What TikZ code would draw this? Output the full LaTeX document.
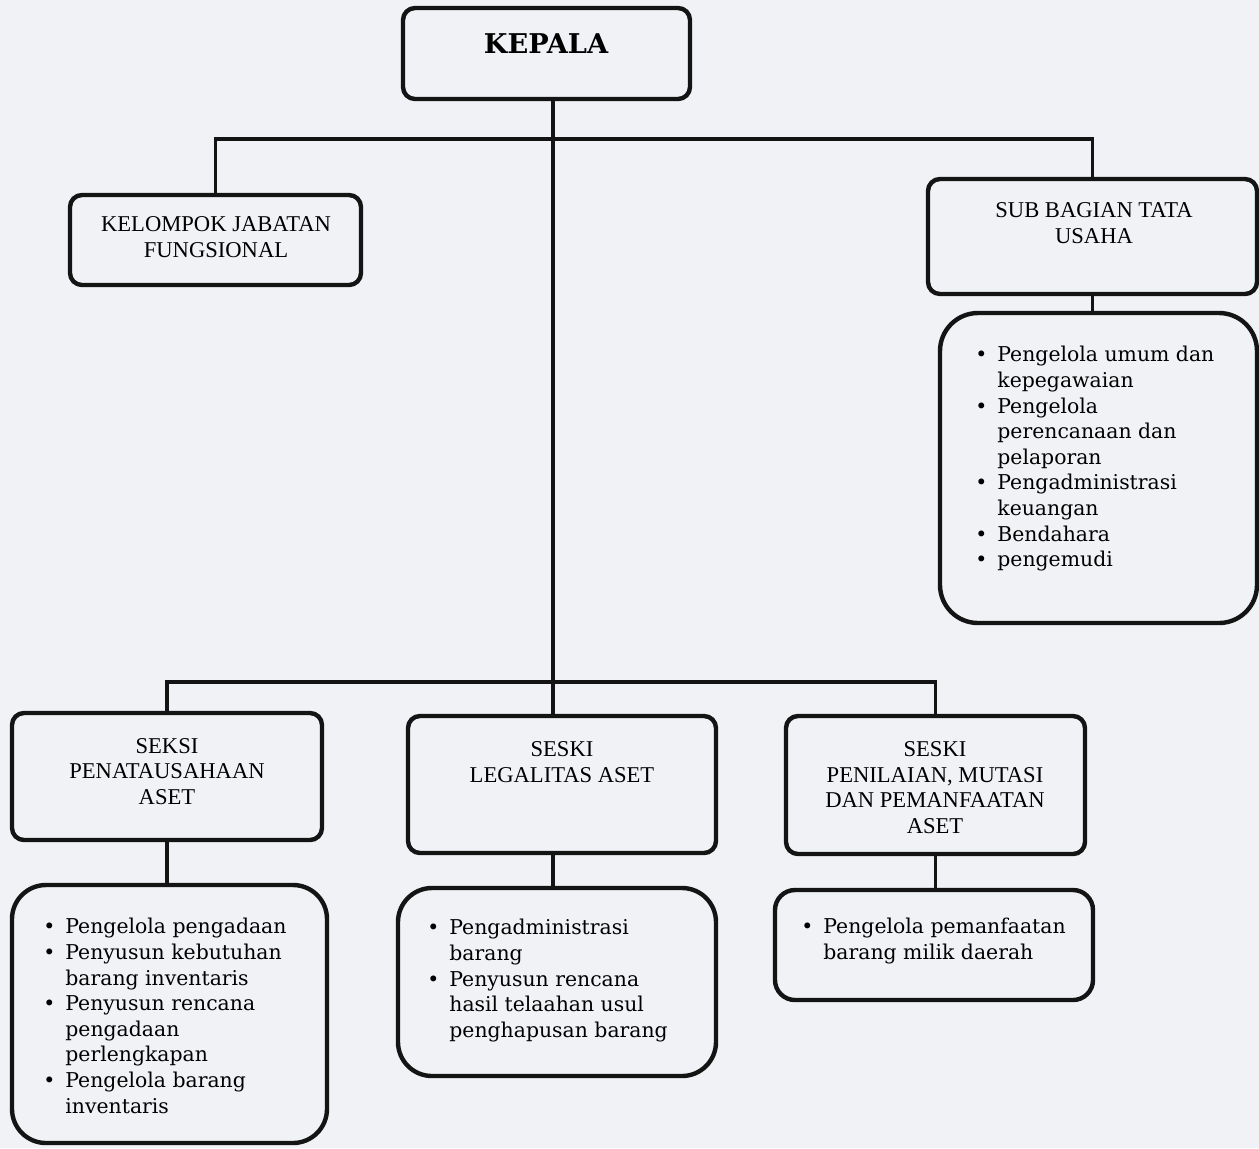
\documentclass[tikz,border=0pt]{standalone}
\usepackage{fontspec}
\setmainfont{Liberation Serif}
\newfontfamily\listfont{DejaVu Serif}
\usetikzlibrary{fit}
\definecolor{bgc}{RGB}{241,242,246}
\definecolor{ink}{RGB}{20,20,20}
\newcommand{\bl}{\llap{\textbullet\hspace{5pt}}}
\tikzset{
  box/.style={draw=ink, line width=2.2pt, rounded corners=6pt, inner sep=0pt},
  listbox/.style={draw=ink, line width=2.2pt, rounded corners=17pt, inner sep=0pt},
  conn/.style={draw=ink, line width=1.8pt},
  head/.style={font=\fontsize{11.3}{12.85}\selectfont, align=center, inner sep=0pt},
  items/.style={font=\listfont\fontsize{10.2}{12.8}\selectfont, align=left, inner sep=0pt, anchor=north west},
}
\begin{document}
\begin{tikzpicture}[x=0.5pt,y=-0.5pt]
\fill[bgc] (0,0) rectangle (1259,1148);
\useasboundingbox (0,0) rectangle (1259,1148);
% boxes
\node[box, fit={(403,8) (690,99)}] (kepala) {};
\node[box, fit={(70,195) (361,285)}] (kjf) {};
\node[box, fit={(928,179) (1257,294)}] (sbtu) {};
\node[listbox, rounded corners=19pt, fit={(940,313) (1257,623)}] (sbl) {};
\node[box, fit={(12,713) (322,840)}] (s1) {};
\node[listbox, fit={(12,885) (327,1143)}] (l1) {};
\node[box, fit={(408,716) (716,853)}] (s2) {};
\node[listbox, fit={(398,888) (716,1076)}] (l2) {};
\node[box, fit={(786,716) (1085,854)}] (s3) {};
\node[box, rounded corners=10pt, fit={(775,890) (1093,1000)}] (l3) {};
% texts
\node[font=\listfont\bfseries\fontsize{13.6}{16}\selectfont, inner sep=0pt] (tkep) at (546,44) {KEPALA};
\node[head] (tkjf) at (216,237) {KELOMPOK JABATAN\\FUNGSIONAL};
\node[head] (tsbtu) at (1094,223) {SUB BAGIAN TATA\\USAHA};
\node[head] (ts1) at (167,771.5) {SEKSI\\PENATAUSAHAAN\\ASET};
\node[head] (ts2) at (562,762) {SESKI\\LEGALITAS ASET};
\node[head] (ts3) at (935,787.5) {SESKI\\PENILAIAN, MUTASI\\DAN PEMANFAATAN\\ASET};
\node[items] (tsbl) at (997,346) {\bl Pengelola umum dan\\kepegawaian\\\bl Pengelola\\perencanaan dan\\pelaporan\\\bl Pengadministrasi\\keuangan\\\bl Bendahara\\\bl pengemudi};
\node[items] (tl1) at (65,918) {\bl Pengelola pengadaan\\\bl Penyusun kebutuhan\\barang inventaris\\\bl Penyusun rencana\\pengadaan\\perlengkapan\\\bl Pengelola barang\\inventaris};
\node[items] (tl2) at (449,919) {\bl Pengadministrasi\\barang\\\bl Penyusun rencana\\hasil telaahan usul\\penghapusan barang};
\node[items] (tl3) at (823,918) {\bl Pengelola pemanfaatan\\barang milik daerah};
% connectors
\coordinate (j1) at (553,139);
\coordinate (j2) at (553,682);
\draw[conn] (kepala.south -| j1) -- (j2) -- (j2 |- s2.north);
\draw[conn] (kjf.north) |- (j1) -| (sbtu.north);
\draw[conn] (sbtu.south) -- (sbtu.south |- sbl.north);
\draw[conn] (s1.north) |- (j2) -| (s3.north);
\draw[conn] (s1.south) -- (s1.south |- l1.north);
\draw[conn] (s2.south -| j2) -- (j2 |- l2.north);
\draw[conn] (s3.south) -- (s3.south |- l3.north);
\end{tikzpicture}
\end{document}
